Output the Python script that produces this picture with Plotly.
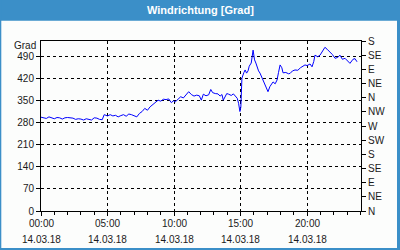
import plotly.graph_objects as go

# ---- data ----
hours = [0.0, 0.2, 0.4, 0.6, 0.8, 1.0, 1.2, 1.4, 1.6, 1.8, 2.0, 2.2, 2.4, 2.6, 2.8, 3.0, 3.2, 3.4, 3.6, 3.8,
         4.0, 4.2, 4.4, 4.6, 4.75, 4.9, 5.0, 5.2, 5.4, 5.6, 5.8, 6.0, 6.2, 6.4, 6.6, 6.8, 7.0, 7.2, 7.4, 7.6,
         7.8, 8.0, 8.2, 8.4, 8.6, 8.8, 9.0, 9.2, 9.4, 9.6, 9.8, 9.95, 10.1, 10.3, 10.5, 10.7, 10.9, 11.1, 11.3, 11.5,
         11.7, 11.9, 12.05, 12.2, 12.4, 12.6, 12.76, 12.9, 13.1, 13.3, 13.46, 13.6, 13.7, 13.85, 13.96, 14.1, 14.3, 14.46, 14.6, 14.75,
         14.85, 14.95, 15.02, 15.1, 15.25, 15.34, 15.45, 15.56, 15.65, 15.71, 15.8, 15.94, 16.05, 16.15, 16.24, 16.35, 16.46, 16.61, 16.8, 17.06,
         17.2, 17.44, 17.6, 17.74, 17.85, 17.97, 18.1, 18.19, 18.4, 18.6, 18.72, 18.9, 19.09, 19.3, 19.5, 19.7, 19.84, 20.0, 20.22, 20.37,
         20.5, 20.59, 20.8, 20.97, 21.1, 21.34, 21.5, 21.72, 21.9, 22.1, 22.3, 22.47, 22.65, 22.85, 23.0, 23.22, 23.45, 23.6, 23.75]
grad = [298, 296, 294, 299, 295, 293, 297, 296, 292, 296, 297, 296, 295, 291, 293, 292, 289, 293, 290, 289,
        296, 295, 291, 290, 306, 305, 302, 306, 302, 304, 299, 303, 306, 301, 308, 306, 303, 299, 310, 316,
        326, 320, 331, 338, 347, 352, 349, 355, 354, 356, 344, 350, 347, 356, 363, 359, 368, 379, 370, 365,
        368, 366, 352, 371, 366, 369, 386, 376, 373, 372, 365, 370, 352, 366, 373, 371, 367, 372, 364, 358,
        342, 316, 330, 422, 440, 448, 438, 445, 460, 464, 470, 511, 480, 470, 458, 445, 438, 422, 404, 379,
        395, 410, 404, 416, 440, 464, 455, 439, 440, 436, 437, 445, 448, 447, 455, 460, 464, 462, 467, 458,
        475, 495, 490, 495, 505, 520, 514, 506, 497, 485, 488, 495, 482, 485, 478, 469, 482, 484, 474]

x_tick_vals = [0, 5, 10, 15, 20]
x_tick_times = ["00:00", "05:00", "10:00", "15:00", "20:00"]
x_tick_dates = ["14.03.18", "14.03.18", "14.03.18", "14.03.18", "14.03.18"]
y_tick_vals = [0, 70, 140, 210, 280, 350, 420, 490]
compass_vals = [0, 45, 90, 135, 180, 225, 270, 315, 360, 405, 450, 495, 540]
compass_text = ["N", "NE", "E", "SE", "S", "SW", "W", "NW", "N", "NE", "E", "SE", "S"]

title = "Windrichtung [Grad]"
unit = "Grad"

W, H = 400, 250
ML, MR, MT, MB = 41, 39, 41, 39
PW, PH = W - ML - MR, H - MT - MB

def px(xp):
    return (xp - ML) / PW

def py(yp):
    return (H - MB - yp) / PH

BLUE = "#3b8fc8"
TXT = "#1a1a1a"
FONT = "Liberation Sans, Arial, sans-serif"

fig = go.Figure()
fig.add_trace(go.Scatter(x=hours, y=grad, mode="lines",
                         line=dict(color="#0000ff", width=1), showlegend=False, hoverinfo="skip"))
fig.add_trace(go.Scatter(x=[0], y=[0], yaxis="y2", mode="markers",
                         marker=dict(opacity=0), showlegend=False, hoverinfo="skip"))

fig.update_layout(
    width=W, height=H,
    margin=dict(l=ML, r=MR, t=MT, b=MB, pad=0),
    paper_bgcolor="#fcfdfc", plot_bgcolor="#fcfdfc",
    font=dict(family=FONT, size=10, color=TXT),
    xaxis=dict(range=[0, 24.05], tickvals=x_tick_vals, ticktext=[""] * len(x_tick_vals),
               showline=True, linecolor="black", linewidth=1, mirror=True,
               ticks="outside", ticklen=4, tickcolor="black",
               showgrid=True, gridcolor="black", griddash="3px,3px", gridwidth=1,
               zeroline=False, fixedrange=True,
               minor=dict(dtick=1, tick0=0, ticks="outside", ticklen=3, tickcolor="black", showgrid=False)),
    yaxis=dict(range=[0, 540], tickvals=y_tick_vals,
               showline=True, linecolor="black", linewidth=1,
               ticks="outside", ticklen=4, tickcolor="black",
               showgrid=True, gridcolor="black", griddash="3px,3px", gridwidth=1,
               zeroline=False, fixedrange=True),
    yaxis2=dict(range=[0, 540], tickvals=compass_vals, ticktext=compass_text,
                overlaying="y", side="right", showline=True, linecolor="black", linewidth=1,
                ticks="outside", ticklen=4, tickcolor="black", showgrid=False,
                zeroline=False, fixedrange=True),
)

shapes = [
    dict(type="rect", xref="paper", yref="paper", x0=px(0), x1=px(W), y0=py(20.7), y1=py(0),
         fillcolor=BLUE, line=dict(width=0), layer="above"),
    dict(type="rect", xref="paper", yref="paper", x0=px(0), x1=px(1.3), y0=py(H), y1=py(0),
         fillcolor=BLUE, line=dict(width=0), layer="above"),
    dict(type="rect", xref="paper", yref="paper", x0=px(W - 3), x1=px(W), y0=py(H), y1=py(0),
         fillcolor=BLUE, line=dict(width=0), layer="above"),
    dict(type="rect", xref="paper", yref="paper", x0=px(0), x1=px(W), y0=py(H), y1=py(H - 2),
         fillcolor=BLUE, line=dict(width=0), layer="above"),
]
fig.update_layout(shapes=shapes)

for xv, tt, dd in zip(x_tick_vals, x_tick_times, x_tick_dates):
    fig.add_annotation(text=tt, xref="x", yref="paper", x=xv, y=py(223.5), showarrow=False,
                       xanchor="center", yanchor="middle", font=dict(family=FONT, size=10, color=TXT))
    fig.add_annotation(text=dd, xref="x", yref="paper", x=xv, y=py(239.5), showarrow=False,
                       xanchor="center", yanchor="middle", font=dict(family=FONT, size=10, color=TXT))

fig.add_annotation(text="<b>" + title + "</b>", xref="paper", yref="paper",
                   x=px(W / 2), y=py(10.5), showarrow=False,
                   font=dict(family=FONT, size=11, color="white"), xanchor="center", yanchor="middle")
fig.add_annotation(text=unit, xref="paper", yref="paper",
                   x=px(38), y=py(45), showarrow=False,
                   font=dict(family=FONT, size=10, color=TXT), xanchor="right", yanchor="middle")

fig.write_html("out.html")
